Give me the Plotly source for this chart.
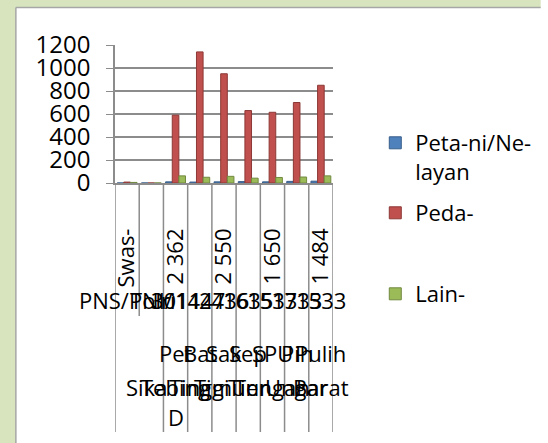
import plotly.graph_objects as go

# categories (one per column slot) and the tick labels Excel actually showed
CATEGORIES = ["c1", "c2", "c3", "c4", "c5", "c6", "c7", "c8", "c9"]
TICK_LABELS = ["Swas-", "", "2 362", "", "2 550", "", "1 650", "", "1 484"]

SERIES_NAMES = ["Peta-ni/Ne-<br>layan", "Peda-", "Lain-"]
PETANI = [0, 0, 10, 8, 10, 12, 10, 14, 16]
PEDAGANG = [8, 0, 590, 1140, 950, 630, 615, 700, 850]
LAIN = [5, 0, 62, 50, 58, 42, 48, 52, 62]

# second and third level category labels (they overlap in the original)
LEVEL2 = ["PNS/Polri", "TNI/", "3011", "1447", "2436", "1635", "1533", "1733", "1533"]
LEVEL3_A = ["", "", "Pet", "Bat", "Sak", "Sep", "SPU", "Pih", "Pulih"]
LEVEL3_B = ["", "", "Tebing", "Tinggi", "Timur", "Tiur", "Tengah", "Ungar", "Barat"]
LEVEL3_C = ["", "", "D", "", "", "", "", "", ""]
LEVEL3_EXTRA = "Sika"

COLORS = ["#4f81bd", "#c0504d", "#9bbb59"]
EDGES = ["#385d8a", "#8c3836", "#71893f"]
GRID = "#8c8c8c"
SHEET = "#d7e4bd"
FONT = "Open Sans"

# plot area in pixels: x 115..347, y 45..183
PX_L, PX_R, PX_T, PX_B = 115, 347, 45, 183
W, H = 548, 443


def px_x(px):
    return (px - PX_L) / (PX_R - PX_L)


def px_y(py):
    return (PX_B - py) / (PX_B - PX_T)


fig = go.Figure()
legends = ["legend", "legend2", "legend3"]
for name, vals, color, edge, lg in zip(SERIES_NAMES, [PETANI, PEDAGANG, LAIN], COLORS, EDGES, legends):
    fig.add_trace(go.Bar(
        x=CATEGORIES, y=vals, name=name,
        marker=dict(color=color, line=dict(color=edge, width=1)),
        legend=lg, showlegend=True,
    ))

# green sheet strips on the left and top, chart border lines
shapes = [
    dict(type="rect", xref="paper", yref="paper", layer="below",
         x0=px_x(-20), x1=px_x(9.5), y0=px_y(H + 20), y1=px_y(-20),
         fillcolor=SHEET, line=dict(width=0)),
    dict(type="rect", xref="paper", yref="paper", layer="below",
         x0=px_x(-20), x1=px_x(W + 20), y0=px_y(7.5), y1=px_y(-20),
         fillcolor=SHEET, line=dict(width=0)),
    dict(type="line", xref="paper", yref="paper", layer="below",
         x0=px_x(9.5), x1=px_x(9.5), y0=px_y(H + 20), y1=px_y(7.5),
         line=dict(color="#a6a6a6", width=1.5)),
    dict(type="line", xref="paper", yref="paper", layer="below",
         x0=px_x(9.5), x1=px_x(W + 20), y0=px_y(7.5), y1=px_y(7.5),
         line=dict(color="#a6a6a6", width=1.5)),
]
# category separators below the axis
for i in range(len(CATEGORIES) + 1):
    bottom = 316 if i == 1 else 432
    shapes.append(dict(
        type="line", xref="x", yref="paper",
        x0=i - 0.5, x1=i - 0.5, y0=0, y1=px_y(bottom),
        line=dict(color=GRID, width=1.5),
    ))

annotations = []
lbl_font = dict(family=FONT, size=22, color="black")
for i, t in enumerate(LEVEL2):
    annotations.append(dict(x=i, y=px_y(300), xref="x", yref="paper", text=t,
                            showarrow=False, font=lbl_font, xanchor="center", yanchor="middle"))
for row, ypx in [(LEVEL3_A, 353), (LEVEL3_B, 387), (LEVEL3_C, 417)]:
    for i, t in enumerate(row):
        if t:
            annotations.append(dict(x=i, y=px_y(ypx), xref="x", yref="paper", text=t,
                                    showarrow=False, font=lbl_font, xanchor="center", yanchor="middle"))
annotations.append(dict(x=px_x(125), y=px_y(387), xref="paper", yref="paper", text=LEVEL3_EXTRA,
                        showarrow=False, font=lbl_font, xanchor="left", yanchor="middle"))

leg_common = dict(bgcolor="rgba(0,0,0,0)", font=dict(family=FONT, size=22, color="black"),
                  xanchor="left", yanchor="top", valign="top", itemwidth=30)

fig.update_layout(
    width=W, height=H, autosize=False,
    margin=dict(l=PX_L, r=W - PX_R, t=PX_T, b=H - PX_B, pad=0),
    paper_bgcolor="white",
    plot_bgcolor="white",
    font=dict(family=FONT, size=22, color="black"),
    showlegend=True,
    barmode="group", bargap=0.18, bargroupgap=0,
    shapes=shapes,
    annotations=annotations,
    legend=dict(x=px_x(392), y=px_y(122), **leg_common),
    legend2=dict(x=px_x(392), y=px_y(192), **leg_common),
    legend3=dict(x=px_x(392), y=px_y(273), **leg_common),
    xaxis=dict(
        type="category", range=[-0.5, len(CATEGORIES) - 0.5],
        tickmode="array", tickvals=CATEGORIES, ticktext=TICK_LABELS,
        tickangle=-90, ticks="", showgrid=False,
        showline=True, linecolor=GRID, linewidth=1.5,
        ticklabelstandoff=35,
    ),
    yaxis=dict(
        range=[0, 1200], tick0=0, dtick=200,
        showgrid=True, gridcolor=GRID, gridwidth=1.5,
        ticks="outside", ticklen=7, tickcolor=GRID,
        showline=True, linecolor=GRID, linewidth=1.5,
        zeroline=False, ticklabelstandoff=11,
        tickfont=dict(family=FONT, size=24, color="black"),
    ),
)

# drop the browser's default 8px body margin so the figure sits at the page corner
fig.write_html("out.html", config={"displayModeBar": False},
               post_script="document.body.style.margin='0';")
